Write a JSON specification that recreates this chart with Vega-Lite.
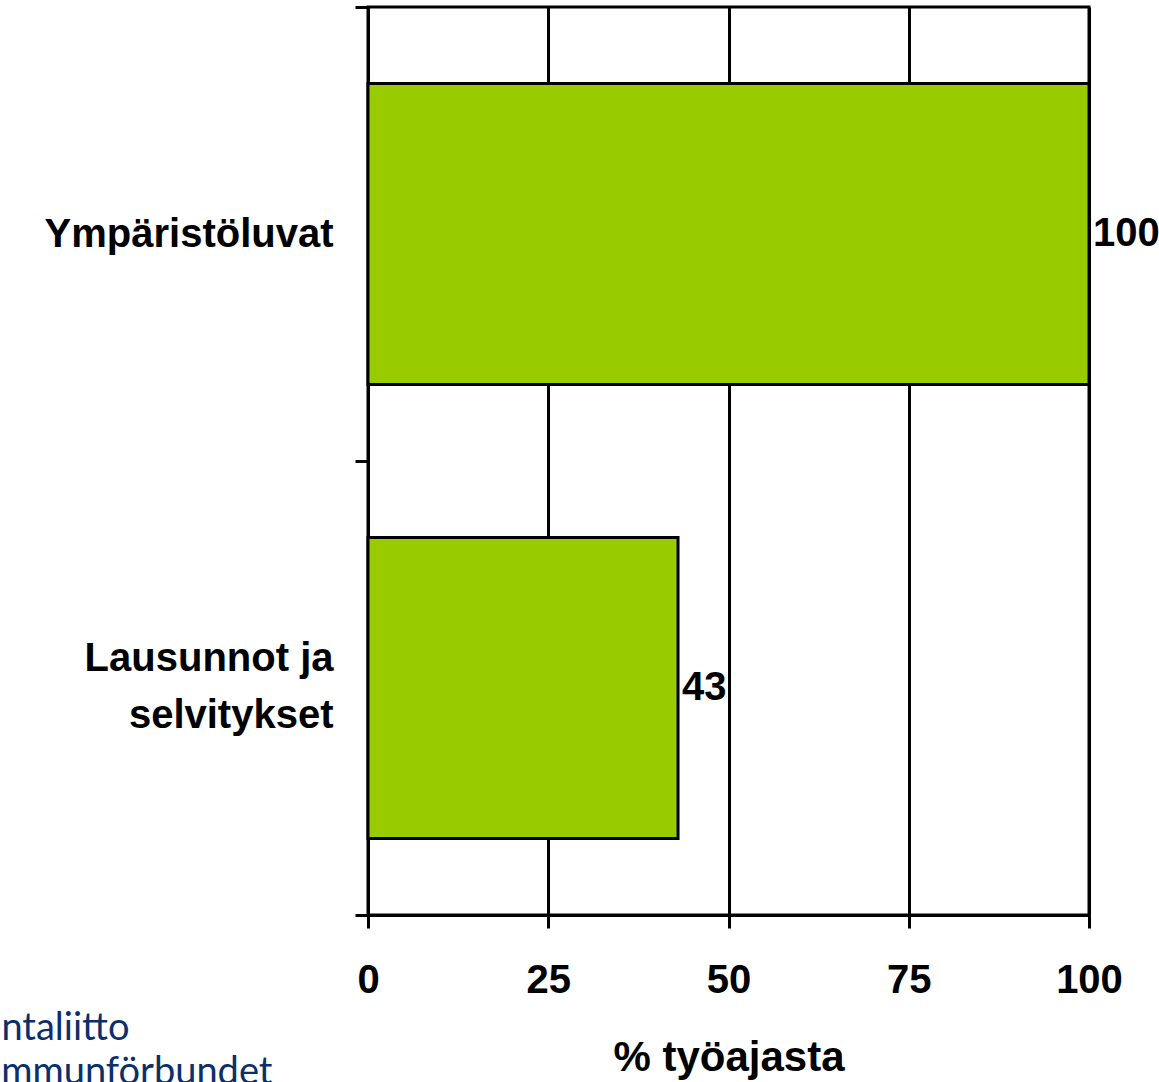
{
  "$schema": "https://vega.github.io/schema/vega-lite/v6.json",
  "autosize": {"type": "none"},
  "padding": {"left": 368, "top": 7, "right": 70, "bottom": 167},
  "width": 721,
  "height": 908,
  "background": "white",
  "view": {"stroke": "black", "strokeWidth": 3},
  "config": {
    "font": "Liberation Sans"
  },
  "title": {
    "text": ["Kuntaliitto", "Kommunförbundet"],
    "orient": "bottom",
    "anchor": "start",
    "frame": "group",
    "dx": -412,
    "offset": -38,
    "baseline": "alphabetic",
    "font": "Lato",
    "fontSize": 38,
    "fontWeight": "normal",
    "color": "#0b2f6b",
    "lineHeight": 44
  },
  "data": {
    "values": [
      {"kategoria": "Ympäristöluvat", "osuus": 100},
      {"kategoria": "Lausunnot ja selvitykset", "osuus": 43}
    ]
  },
  "encoding": {
    "y": {
      "field": "kategoria",
      "type": "nominal",
      "sort": null,
      "scale": {"paddingInner": 0, "paddingOuter": 0},
      "axis": {
        "title": null,
        "tickBand": "extent",
        "domainColor": "black",
        "domainWidth": 3,
        "tickColor": "black",
        "tickWidth": 3,
        "tickSize": 13,
        "labelFont": "Liberation Sans",
        "labelFontSize": 40,
        "labelFontWeight": "bold",
        "labelColor": "black",
        "labelPadding": 22,
        "labelLineHeight": 57,
        "labelLimit": 400,
        "labelOffset": {"condition": {"test": "datum.value == 'Lausunnot ja selvitykset'", "value": -30}, "value": 0},
        "labelExpr": "datum.label == 'Lausunnot ja selvitykset' ? ['Lausunnot ja', 'selvitykset'] : datum.label"
      }
    },
    "x": {
      "field": "osuus",
      "type": "quantitative",
      "scale": {"domain": [0, 100], "nice": false},
      "axis": {
        "title": "% työajasta",
        "values": [0, 25, 50, 75, 100],
        "grid": true,
        "gridColor": "black",
        "gridWidth": 3,
        "gridOpacity": 1,
        "domainColor": "black",
        "domainWidth": 3,
        "tickColor": "black",
        "tickWidth": 3,
        "tickSize": 13,
        "labelFont": "Liberation Sans",
        "labelFontSize": 40,
        "labelFontWeight": "bold",
        "labelColor": "black",
        "labelPadding": 32,
        "labelFlush": false,
        "titleFont": "Liberation Sans",
        "titleFontSize": 42,
        "titleFontWeight": "bold",
        "titleColor": "black",
        "titlePadding": 37
      }
    }
  },
  "layer": [
    {
      "mark": {
        "type": "bar",
        "color": "#99CC00",
        "stroke": "black",
        "strokeWidth": 3,
        "height": {"band": 0.663}
      }
    },
    {
      "mark": {
        "type": "text",
        "align": "left",
        "baseline": "middle",
        "dx": 4,
        "font": "Liberation Sans",
        "fontSize": 40,
        "fontWeight": "bold",
        "color": "black"
      },
      "encoding": {
        "text": {"field": "osuus", "type": "quantitative"}
      }
    }
  ]
}
